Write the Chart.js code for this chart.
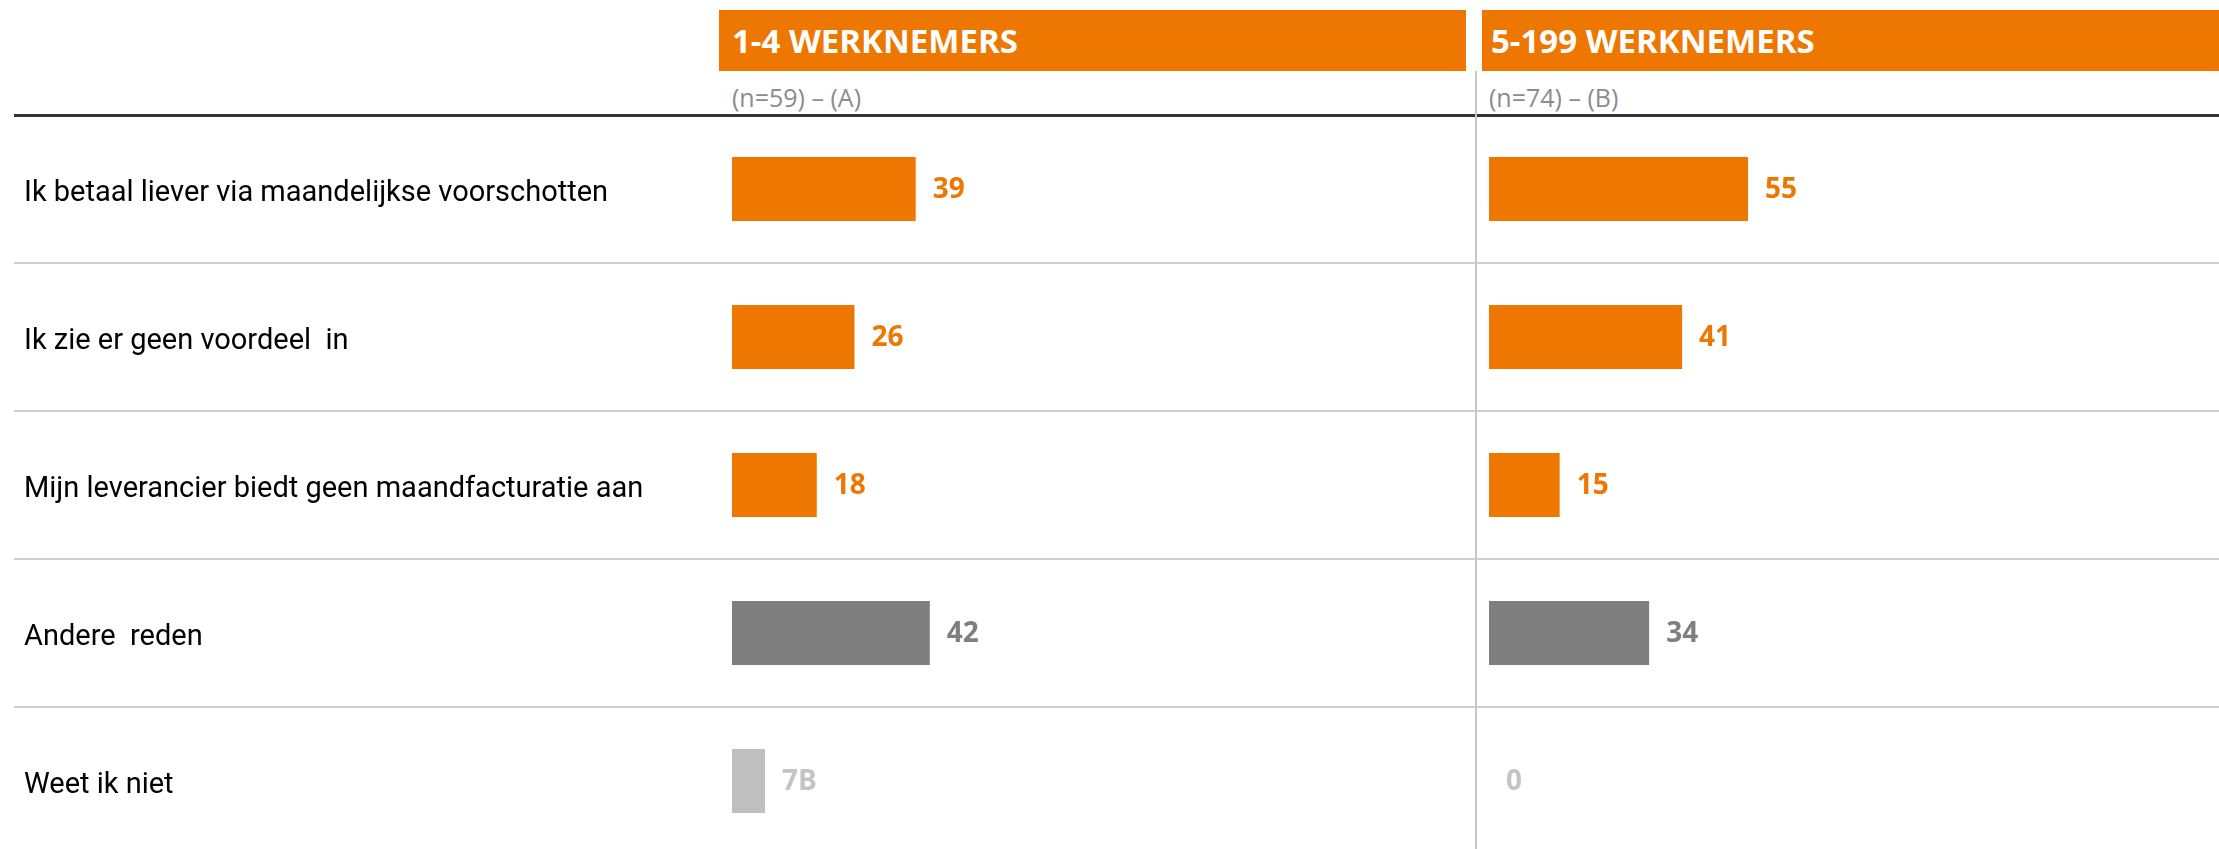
<!DOCTYPE html>
<html>
<head>
<meta charset="utf-8">
<script src="https://cdn.jsdelivr.net/npm/chart.js@4.4.0/dist/chart.umd.min.js"></script>
<style>
    body { margin: 0; width: 2219px; height: 849px; overflow: hidden; background: #fff; position: relative;
           font-family: 'Open Sans', sans-serif; }
    .panel-head { position: absolute; top: 10px; height: 61px; background: #ED7700; color: #fff;
                  font-weight: bold; font-size: 33px; line-height: 61px; box-sizing: border-box; }
    .panel-sub { position: absolute; top: 80px; font-size: 25px; color: #8c8c8c; }
    .topline { position: absolute; left: 14px; top: 114px; width: 2205px; height: 3px; background: #333; }
    .divider { position: absolute; left: 1475px; top: 71px; width: 2px; height: 778px; background: #c6c6c6; }
    canvas { position: absolute; top: 115px; }
</style>
</head>
<body>
    <div class="panel-head" style="left:719px; width:747px; padding-left:13px;">1-4 WERKNEMERS</div>
    <div class="panel-head" style="left:1482px; width:737px; padding-left:9px;">5-199 WERKNEMERS</div>
    <div class="panel-sub" style="left:732px;">(n=59) – (A)</div>
    <div class="panel-sub" style="left:1489px;">(n=74) – (B)</div>
    <canvas id="chartA" width="1476" height="740" style="left:0;"></canvas>
    <canvas id="chartB" width="743" height="740" style="left:1476px;"></canvas>
    <div class="topline"></div>
    <div class="divider"></div>

<script>
        // Data
        const categories = [
            'Ik betaal liever via maandelijkse voorschotten',
            'Ik zie er geen voordeel  in',
            'Mijn leverancier biedt geen maandfacturatie aan',
            'Andere  reden',
            'Weet ik niet'
        ];
        const valuesA = [39, 26, 18, 42, 7];   // 1-4 werknemers
        const valuesB = [55, 41, 15, 34, 0];   // 5-199 werknemers
        const sigA = ['', '', '', '', 'B'];
        const sigB = ['', '', '', '', ''];

        const barColors = ['#ED7700', '#ED7700', '#ED7700', '#7F7F7F', '#BFBFBF'];
        const labelColors = ['#ED7700', '#ED7700', '#ED7700', '#7F7F7F', '#C4C4C4'];

        // Row separators across the full width
        const rowLines = {
            id: 'rowLines',
            beforeDatasetsDraw(chart, args, opts) {
                const ctx = chart.ctx;
                const y = chart.scales.y;
                ctx.save();
                ctx.strokeStyle = '#cfcfcf';
                ctx.lineWidth = 2;
                for (let i = 1; i < categories.length; i++) {
                    const py = Math.round((y.getPixelForValue(i - 1) + y.getPixelForValue(i)) / 2);
                    ctx.beginPath();
                    ctx.moveTo(opts.fromX, py);
                    ctx.lineTo(chart.width, py);
                    ctx.stroke();
                }
                ctx.restore();
            }
        };

        // Value labels next to the bars
        const valueLabels = {
            id: 'valueLabels',
            afterDatasetsDraw(chart, args, opts) {
                const ctx = chart.ctx;
                const meta = chart.getDatasetMeta(0);
                const data = chart.data.datasets[0].data;
                ctx.save();
                ctx.font = "bold 28px 'Open Sans', sans-serif";
                ctx.textBaseline = 'middle';
                ctx.textAlign = 'left';
                meta.data.forEach((bar, i) => {
                    ctx.fillStyle = labelColors[i];
                    ctx.fillText(data[i] + opts.sig[i], bar.x + 17, bar.y + 1);
                });
                ctx.restore();
            }
        };

        function makeChart(id, values, sig, showLabels, padding, fromX) {
            return new Chart(document.getElementById(id).getContext('2d'), {
                type: 'bar',
                data: {
                    labels: categories,
                    datasets: [{
                        data: values,
                        backgroundColor: barColors,
                        borderWidth: 0,
                        inflateAmount: 0,
                        barThickness: 64
                    }]
                },
                options: {
                    indexAxis: 'y',
                    responsive: false,
                    animation: false,
                    layout: { padding: padding },
                    plugins: {
                        legend: { display: false },
                        tooltip: { enabled: false },
                        rowLines: { fromX: fromX },
                        valueLabels: { sig: sig }
                    },
                    scales: {
                        x: {
                            display: false,
                            min: 0,
                            max: 100
                        },
                        y: {
                            display: showLabels,
                            border: { display: false },
                            grid: { display: false },
                            afterFit: function(scale) {
                                // fixed label column, no extra room for the first/last label
                                if (showLabels) scale.width = 708;
                                scale.paddingTop = 0;
                                scale.paddingBottom = 0;
                            },
                            ticks: {
                                crossAlign: 'far',
                                labelOffset: 5,
                                color: '#000',
                                font: { family: 'Roboto', size: 29 }
                            }
                        }
                    }
                },
                plugins: [rowLines, valueLabels]
            });
        }

        makeChart('chartA', valuesA, sigA, true, { left: 24, right: 273, top: 0, bottom: 0 }, 14);
        makeChart('chartB', valuesB, sigB, false, { left: 13, right: 259, top: 0, bottom: 0 }, 0);
</script>
</body>
</html>
